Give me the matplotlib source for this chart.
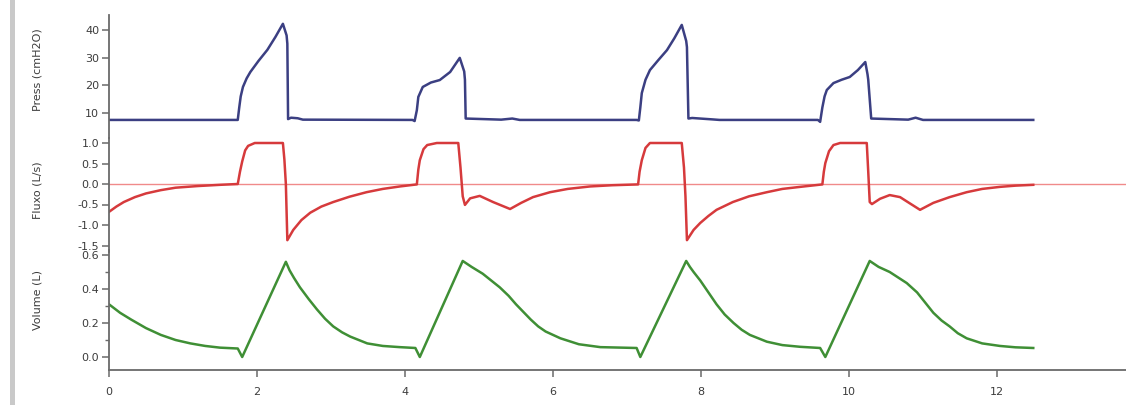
import matplotlib
matplotlib.use("Agg")
import matplotlib.pyplot as plt
from matplotlib.patches import Rectangle

# ---------------- data ----------------
press_t = [0, 1.74, 1.76, 1.78, 1.81, 1.86, 1.91, 2.02, 2.14, 2.25, 2.35, 2.40, 2.41, 2.42,
           2.46, 2.55, 2.62, 4.10, 4.13, 4.16, 4.18, 4.24, 4.35, 4.47, 4.61, 4.74, 4.80, 4.81,
           4.82, 5.30, 5.45, 5.55, 7.13, 7.16, 7.18, 7.20, 7.25, 7.31, 7.42, 7.54, 7.64, 7.74,
           7.80, 7.81, 7.83, 7.88, 8.15, 8.25, 9.58, 9.61, 9.64, 9.67, 9.70, 9.79, 9.90, 10.01,
           10.12, 10.22, 10.25, 10.26, 10.30, 10.80, 10.90, 11.00, 12.49]
press = [7.5, 7.5, 12.0, 16.0, 19.4, 22.5, 24.8, 28.8, 32.8, 37.5, 42.2, 38.0, 35.0, 7.8,
         8.3, 8.1, 7.6, 7.5, 7.1, 11.0, 15.8, 19.4, 21.0, 21.9, 24.8, 29.9, 25.0, 22.0,
         8.0, 7.6, 8.0, 7.5, 7.5, 7.3, 12.0, 17.2, 22.0, 25.5, 29.0, 32.7, 37.0, 41.8,
         36.0, 33.8, 8.0, 8.2, 7.7, 7.5, 7.5, 6.8, 12.0, 16.0, 18.3, 20.8, 22.0, 23.0,
         25.5, 28.4, 24.0, 22.0, 8.0, 7.6, 8.3, 7.5, 7.5]

flow_t = [0, 0.1, 0.2, 0.35, 0.5, 0.7, 0.9, 1.2, 1.5, 1.74,
          1.77, 1.80, 1.84, 1.88, 1.97, 2.35, 2.37, 2.39, 2.41, 2.49, 2.60, 2.72, 2.87, 3.03,
          3.25, 3.48, 3.70, 3.93, 4.16,
          4.18, 4.20, 4.25, 4.30, 4.43, 4.72, 4.75, 4.78, 4.81, 4.88, 5.01, 5.19, 5.42, 5.57,
          5.73, 5.96, 6.20, 6.50, 6.80, 7.15,
          7.17, 7.20, 7.25, 7.31, 7.74, 7.77, 7.79, 7.81, 7.90, 7.99, 8.10, 8.21, 8.43, 8.65,
          8.89, 9.10, 9.34, 9.64,
          9.66, 9.68, 9.73, 9.79, 9.88, 10.24, 10.26, 10.28, 10.31, 10.42, 10.55, 10.69, 10.82,
          10.96, 11.14, 11.36, 11.59, 11.80, 12.04, 12.25, 12.49]
flow = [-0.68, -0.55, -0.44, -0.32, -0.23, -0.15, -0.09, -0.05, -0.02, 0.0,
        0.30, 0.55, 0.82, 0.93, 1.0, 1.0, 0.6, 0.0, -1.37, -1.12, -0.88, -0.70, -0.55, -0.44,
        -0.31, -0.20, -0.12, -0.06, -0.01,
        0.35, 0.58, 0.85, 0.95, 1.0, 1.0, 0.4, -0.30, -0.51, -0.35, -0.29, -0.44, -0.61, -0.46,
        -0.32, -0.20, -0.12, -0.06, -0.03, -0.01,
        0.30, 0.58, 0.88, 1.0, 1.0, 0.4, -0.30, -1.37, -1.12, -0.95, -0.78, -0.63, -0.44, -0.30,
        -0.20, -0.12, -0.07, -0.01,
        0.30, 0.51, 0.80, 0.95, 1.0, 1.0, 0.3, -0.44, -0.49, -0.36, -0.27, -0.32, -0.47,
        -0.63, -0.46, -0.32, -0.20, -0.12, -0.07, -0.04, -0.02]

vol_t = [0, 0.15, 0.3, 0.5, 0.7, 0.9, 1.1, 1.3, 1.5, 1.74, 1.80, 2.39, 2.44, 2.50, 2.58,
         2.70, 2.81, 2.92, 3.03, 3.15, 3.26, 3.49, 3.70, 3.93, 4.14, 4.20, 4.78, 4.90, 5.05,
         5.28, 5.40, 5.50, 5.60, 5.70, 5.80, 5.90, 6.10, 6.35, 6.64, 7.13, 7.18, 7.80, 7.85,
         7.90, 7.99, 8.10, 8.21, 8.32, 8.44, 8.55, 8.66, 8.89, 9.10, 9.34, 9.61, 9.68, 10.28,
         10.40, 10.55, 10.78, 10.92, 11.03, 11.14, 11.25, 11.36, 11.47, 11.59, 11.80, 12.04,
         12.25, 12.49]
vol = [0.31, 0.26, 0.22, 0.17, 0.13, 0.10, 0.08, 0.065, 0.055, 0.05, 0.0, 0.56, 0.51, 0.465,
       0.41, 0.34, 0.28, 0.225, 0.18, 0.145, 0.12, 0.08, 0.065, 0.058, 0.053, 0.0, 0.565, 0.53,
       0.49, 0.41, 0.36, 0.31, 0.265, 0.22, 0.18, 0.15, 0.11, 0.075, 0.058, 0.053, 0.0, 0.565,
       0.53, 0.50, 0.45, 0.38, 0.31, 0.25, 0.20, 0.16, 0.13, 0.09, 0.07, 0.06, 0.053, 0.0,
       0.565, 0.53, 0.50, 0.435, 0.38, 0.32, 0.26, 0.215, 0.18, 0.14, 0.11, 0.08, 0.065,
       0.057, 0.053]

press_ticks = [10, 20, 30, 40]
flow_ticks = [-1.5, -1.0, -0.5, 0.0, 0.5, 1.0]
vol_ticks = [0.0, 0.2, 0.4, 0.6]
x_ticks = [0, 2, 4, 6, 8, 10, 12]

labels = ["Press (cmH2O)", "Fluxo (L/s)", "Volume (L)"]

# ---------------- layout ----------------
W, H = 1126, 405
fig = plt.figure(figsize=(W / 100, H / 100), dpi=100)
fig.patch.set_facecolor("white")

# window-edge gray strip
fig.add_artist(Rectangle((10 / W, 0), 5 / W, 1, transform=fig.transFigure,
                         color="#c9c9c9", lw=0))

x0 = 109
def ax_at(top, bottom):
    return fig.add_axes([x0 / W, 1 - bottom / H, (W - x0) / W, (bottom - top) / H])

axP = ax_at(15, 138)
axF = ax_at(138, 252)
axV = ax_at(250, 370)

xmax = (W - x0) / 74.0
axcol = "#6a6a6a"
txtcol = "#3c3c3c"
fs = 8

for ax in (axP, axF, axV):
    ax.set_facecolor("none")
    ax.set_xlim(0, xmax)
    for s in ("top", "right"):
        ax.spines[s].set_visible(False)
    ax.spines["left"].set_color(axcol)
    ax.spines["left"].set_linewidth(1.3)
    ax.tick_params(axis="y", direction="out", length=5, width=1.1, color=axcol,
                   labelsize=fs, labelcolor=txtcol, pad=2)
    ax.tick_params(axis="y", which="minor", direction="out", length=3, width=1, color=axcol)

for ax in (axP, axF):
    ax.spines["bottom"].set_visible(False)
    ax.set_xticks([])

axV.spines["bottom"].set_color(axcol)
axV.spines["bottom"].set_linewidth(1.3)
axV.set_xticks(x_ticks)
axV.set_xticklabels([str(v) for v in x_ticks])
axV.tick_params(axis="x", direction="out", length=5, width=1.1, color=axcol,
                labelsize=fs, labelcolor=txtcol, pad=7)

# pressure
axP.plot(press_t, press, color="#3b3f82", lw=1.8)
axP.set_ylim(10 - (138 - 113) / 2.77, 10 + (113 - 15) / 2.77)
axP.set_yticks(press_ticks)

# flow
axF.axhline(0, color="#f08a8a", lw=1.0, zorder=1)
axF.plot(flow_t, flow, color="#d63a3c", lw=1.8, zorder=2)
axF.set_ylim(-(252 - 184) / 41.0, (184 - 138) / 41.0)
axF.set_yticks(flow_ticks)
axF.set_yticklabels([f"{v:.1f}" for v in flow_ticks])

# volume
axV.plot(vol_t, vol, color="#3f8f35", lw=1.8)
axV.set_ylim(-(370 - 357) / 170.0, (357 - 250) / 170.0)
axV.set_yticks(vol_ticks)
axV.set_yticklabels([f"{v:.1f}" for v in vol_ticks])
axV.set_yticks([0.1, 0.3, 0.5], minor=True)

for lab, yc in zip(labels, [70, 190, 300]):
    fig.text(37 / W, 1 - yc / H, lab, rotation=90, ha="center", va="center",
             fontsize=fs, color=txtcol)

fig.savefig("out.png", dpi=100)
